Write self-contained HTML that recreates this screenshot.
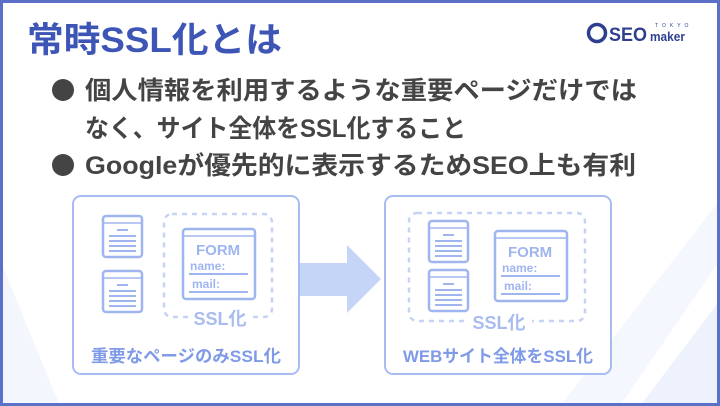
<!DOCTYPE html>
<html><head><meta charset="utf-8"><style>
html,body{margin:0;padding:0;background:#fff}
svg{display:block}
text{font-family:"Liberation Sans","Noto Sans CJK JP",sans-serif}
</style></head><body>
<svg width="720" height="406" viewBox="0 0 720 406" xmlns="http://www.w3.org/2000/svg">
<rect x="0" y="0" width="720" height="406" fill="#fff"/>
<polygon points="0,260 0,406 60,406" fill="#f3f6fd"/>
<polygon points="640,406 720,300 720,406" fill="#eef2fc"/>
<polygon points="560,406 620,406 720,260 720,200" fill="#f5f7fe"/>
<rect x="1.5" y="1.5" width="717" height="403" fill="none" stroke="#5b70c7" stroke-width="3"/>

<text x="27" y="52" font-size="35" font-weight="bold" fill="#3d55b5" textLength="255" lengthAdjust="spacingAndGlyphs">常時SSL化とは</text>

<circle cx="597" cy="33" r="8.5" fill="none" stroke="#2f3f8f" stroke-width="3.5"/>
<text x="609" y="41" font-size="19" font-weight="bold" fill="#2f3f8f" textLength="38" lengthAdjust="spacingAndGlyphs">SEO</text>
<text x="650" y="41" font-size="13" font-weight="bold" fill="#2f3f8f" textLength="35" lengthAdjust="spacingAndGlyphs">maker</text>
<text x="655" y="27" font-size="5" fill="#2f3f8f" letter-spacing="4">TOKYO</text>

<circle cx="63" cy="90" r="11" fill="#444"/>
<circle cx="63" cy="165" r="11" fill="#444"/>
<text x="85" y="99" font-size="25" font-weight="bold" fill="#444" textLength="552" lengthAdjust="spacingAndGlyphs">個人情報を利用するような重要ページだけでは</text>
<text x="85" y="137" font-size="25" font-weight="bold" fill="#444" textLength="381" lengthAdjust="spacingAndGlyphs">なく、サイト全体をSSL化すること</text>
<text x="85" y="174" font-size="25" font-weight="bold" fill="#444" textLength="551" lengthAdjust="spacingAndGlyphs">Googleが優先的に表示するためSEO上も有利</text>

<polygon points="300,263 347,263 347,245 381,279 347,313 347,296 300,296" fill="#c5d5f7"/>

<defs>
<g id="doc">
<rect x="0" y="0" width="39" height="41" rx="3" fill="#fff" stroke="#9fb5ef" stroke-width="2.5"/>
<line x1="0" y1="7" x2="39" y2="7" stroke="#9fb5ef" stroke-width="1.5"/>
<line x1="14" y1="14" x2="25" y2="14" stroke="#9fb5ef" stroke-width="2"/>
<line x1="6" y1="20" x2="33" y2="20" stroke="#9fb5ef" stroke-width="2"/>
<line x1="6" y1="25" x2="33" y2="25" stroke="#9fb5ef" stroke-width="2"/>
<line x1="6" y1="30" x2="33" y2="30" stroke="#9fb5ef" stroke-width="2"/>
<line x1="6" y1="35" x2="33" y2="35" stroke="#9fb5ef" stroke-width="2"/>
</g>
<g id="form">
<rect x="0" y="0" width="72" height="70" rx="3" fill="#fff" stroke="#9fb5ef" stroke-width="2.5"/>
<line x1="0" y1="7" x2="72" y2="7" stroke="#9fb5ef" stroke-width="1.5"/>
<text x="13" y="26" font-size="15" fill="#9fb5ef" font-weight="bold">FORM</text>
<text x="7" y="41" font-size="12" fill="#9fb5ef" font-weight="bold">name:</text>
<line x1="6" y1="45" x2="65" y2="45" stroke="#9fb5ef" stroke-width="2"/>
<text x="9" y="59" font-size="12" fill="#9fb5ef" font-weight="bold">mail:</text>
<line x1="6" y1="63" x2="65" y2="63" stroke="#9fb5ef" stroke-width="2"/>
</g>
</defs>

<rect x="73" y="196" width="226" height="178" rx="8" fill="#fff" stroke="#a8bcf2" stroke-width="2"/>
<use href="#doc" x="103" y="216"/>
<use href="#doc" x="103" y="271"/>
<rect x="164" y="214" width="108" height="103" rx="8" fill="none" stroke="#c5d3f5" stroke-width="2.5" stroke-dasharray="5,5"/>
<rect x="188" y="308" width="64" height="20" fill="#fff"/>
<use href="#form" x="183" y="229"/>
<text x="220" y="325" font-size="18" fill="#a9bcf0" font-weight="bold" text-anchor="middle">SSL化</text>
<text x="186" y="362" font-size="17" fill="#7f9ae6" font-weight="bold" text-anchor="middle" textLength="190" lengthAdjust="spacingAndGlyphs">重要なページのみSSL化</text>

<rect x="385" y="196" width="226" height="178" rx="8" fill="#fff" stroke="#a8bcf2" stroke-width="2"/>
<rect x="409" y="213" width="176" height="108" rx="8" fill="none" stroke="#c5d3f5" stroke-width="2.5" stroke-dasharray="5,5"/>
<rect x="466" y="312" width="66" height="20" fill="#fff"/>
<use href="#doc" x="429" y="221"/>
<use href="#doc" x="429" y="270"/>
<use href="#form" x="495" y="231"/>
<text x="499" y="329" font-size="18" fill="#a9bcf0" font-weight="bold" text-anchor="middle">SSL化</text>
<text x="498" y="362" font-size="17" fill="#7f9ae6" font-weight="bold" text-anchor="middle" textLength="190" lengthAdjust="spacingAndGlyphs">WEBサイト全体をSSL化</text>
</svg>
</body></html>
